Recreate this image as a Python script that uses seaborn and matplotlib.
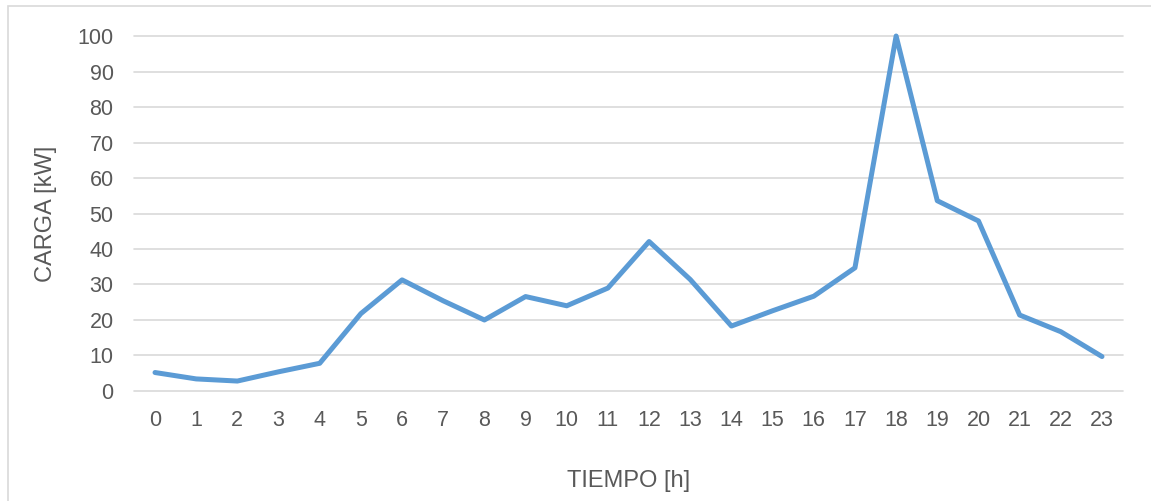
import numpy as np
import pandas as pd
import matplotlib
matplotlib.use('Agg')
import matplotlib.pyplot as plt
import seaborn as sns

horas = list(range(24))
carga = [5.2, 3.4, 2.8, 5.4, 7.8, 21.8, 31.3, 25.4, 20.0, 26.6, 24.0, 29.0,
         42.1, 31.4, 18.3, 22.6, 26.7, 34.7, 100.0, 53.6, 47.9, 21.4, 16.7, 9.7]
y_ticks = list(range(0, 101, 10))

sns.set_style('white')
plt.rcParams['font.family'] = ['Liberation Sans Narrow', 'Liberation Sans', 'DejaVu Sans']
gris = '#595959'

df = pd.DataFrame({'hora': horas, 'carga': carga})

fig = plt.figure(figsize=(11.51, 5.01), dpi=100)
ax = fig.add_axes([0.1168, 0.2196, 0.8585, 0.7085])

for y in y_ticks:
    ax.axhline(y, color='#D9D9D9', lw=1.2, zorder=0, clip_on=False)

sns.lineplot(data=df, x='hora', y='carga', ax=ax, color='#5B9BD5', lw=3.6,
             solid_joinstyle='round', solid_capstyle='round', clip_on=False)

ax.set_xlim(-0.5, 23.5)
ax.set_ylim(0, 100)
ax.set_xticks(horas)
ax.set_xticklabels([str(h) for h in horas])
ax.set_yticks(y_ticks)
ax.tick_params(axis='both', length=0, labelsize=15.5, labelcolor=gris)
ax.tick_params(axis='x', pad=14)
ax.tick_params(axis='y', pad=15)
for s in ax.spines.values():
    s.set_visible(False)

ax.set_xlabel('TIEMPO [h]', fontsize=17, color=gris)
ax.set_ylabel('CARGA [kW]', fontsize=17, color=gris)
ax.xaxis.set_label_coords(0.5, -0.2225)
ax.yaxis.set_label_coords(-0.0783, 0.5)

# chart frame
fig.patches.append(plt.Rectangle((8 / 1151, -0.05), 1.05, 1 - 6 / 501 + 0.05,
                                 transform=fig.transFigure, fill=False,
                                 edgecolor='#D9D9D9', lw=1.2))

fig.savefig('out.png', dpi=100)
